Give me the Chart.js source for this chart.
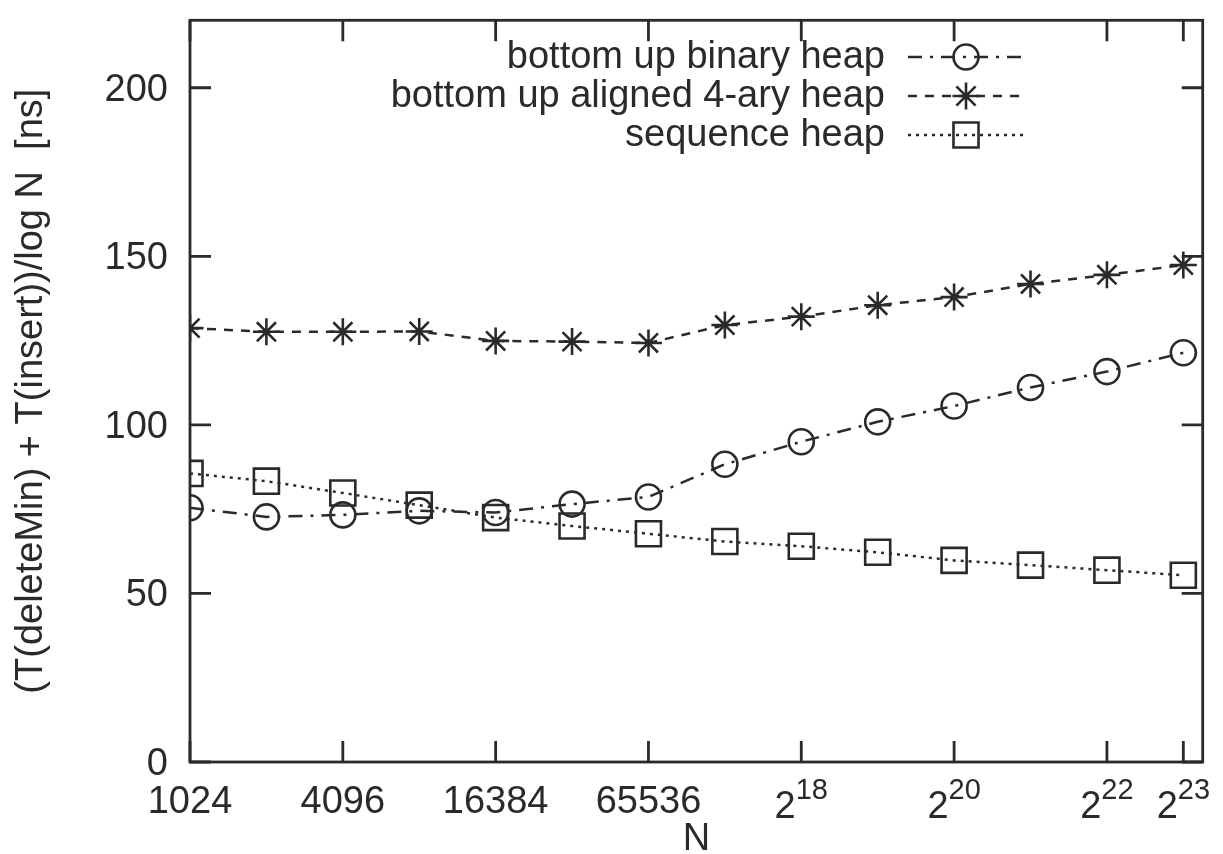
<!DOCTYPE html>
<html>
<head>
<meta charset="utf-8">
<title>Heap benchmark</title>
<script src="https://cdn.jsdelivr.net/npm/chart.js@4/dist/chart.umd.min.js"></script>
<style>
  html, body { margin: 0; padding: 0; background: #ffffff; }
  #wrap { width: 1223px; height: 854px; }
</style>
</head>
<body>
<div id="wrap"><canvas id="c" width="1223" height="854"></canvas></div>
<script>
// Heap sizes N (powers of two, 2^10 .. 2^23)
const heapSizes = [1024, 2048, 4096, 8192, 16384, 32768, 65536, 131072,
                   262144, 524288, 1048576, 2097152, 4194304, 8388608];

// (T(deleteMin) + T(insert)) / log N in nanoseconds
const binaryHeap   = [75.4, 72.7, 73.3, 74.5, 74.0, 76.5, 78.6, 88.3, 95.0, 100.9, 105.6, 111.1, 115.8, 121.4];
const aligned4ary  = [128.7, 127.6, 127.6, 127.7, 124.9, 124.7, 124.3, 129.6, 132.1, 135.5, 137.9, 141.8, 144.5, 147.4];
const sequenceHeap = [85.6, 83.3, 79.8, 76.2, 72.5, 70.0, 67.7, 65.4, 64.0, 62.2, 59.8, 58.4, 56.9, 55.4];

const seriesNames = ['bottom up binary heap', 'bottom up aligned 4-ary heap', 'sequence heap'];

// Axis ticks
const xTickValues = [1024, 4096, 16384, 65536, 262144, 1048576, 4194304, 8388608];
const xTickLabels = ['1024', '4096', '16384', '65536', '2^18', '2^20', '2^22', '2^23'];
const yTickValues = [0, 50, 100, 150, 200];
const yTickLabels = ['0', '50', '100', '150', '200'];

const xTitle = 'N';
const yTitle = '(T(deleteMin) + T(insert))/log N  [ns]';

const INK = '#2a2a2a';
const FONT = '"Liberation Sans", Arial, Helvetica, sans-serif';

function points(values) {
  return values.map((v, i) => ({ x: heapSizes[i], y: v }));
}

// Plain (non-filled) marker drawing for the key
function drawMarker(ctx, style, r, x, y) {
  ctx.beginPath();
  if (style === 'circle') {
    ctx.arc(x, y, r, 0, Math.PI * 2);
  } else if (style === 'rect') {
    const s = Math.SQRT1_2 * r;
    ctx.rect(x - s, y - s, 2 * s, 2 * s);
  } else if (style === 'star') {
    ctx.moveTo(x - r, y); ctx.lineTo(x + r, y);
    ctx.moveTo(x, y - r); ctx.lineTo(x, y + r);
    const d = Math.SQRT1_2 * r;
    ctx.moveTo(x - d, y - d); ctx.lineTo(x + d, y + d);
    ctx.moveTo(x - d, y + d); ctx.lineTo(x + d, y - d);
  }
  ctx.stroke();
}

// Frame, inward ticks on all four sides, tick labels, axis titles and key
const framePlugin = {
  id: 'gnuFrame',
  afterDatasetsDraw(chart) {
    const ctx = chart.ctx;
    const area = chart.chartArea;
    const xs = chart.scales.x, ys = chart.scales.y;
    const tickLen = 21;
    ctx.save();
    ctx.strokeStyle = INK;
    ctx.lineWidth = 2.8;
    ctx.setLineDash([]);
    ctx.strokeRect(area.left, area.top, area.right - area.left, area.bottom - area.top);

    ctx.beginPath();
    xTickValues.forEach(v => {
      const px = xs.getPixelForValue(v);
      ctx.moveTo(px, area.bottom); ctx.lineTo(px, area.bottom - tickLen);
      ctx.moveTo(px, area.top);    ctx.lineTo(px, area.top + tickLen);
    });
    yTickValues.forEach(v => {
      const py = ys.getPixelForValue(v);
      ctx.moveTo(area.left, py);  ctx.lineTo(area.left + tickLen, py);
      ctx.moveTo(area.right, py); ctx.lineTo(area.right - tickLen, py);
    });
    ctx.stroke();

    ctx.fillStyle = INK;
    // y tick labels
    ctx.font = '38px ' + FONT;
    ctx.textAlign = 'right';
    ctx.textBaseline = 'alphabetic';
    yTickValues.forEach((v, i) => {
      const py = ys.getPixelForValue(v);
      ctx.fillText(yTickLabels[i], area.left - 22, py + 13);
    });

    // x tick labels (a^b written with a raised exponent)
    xTickValues.forEach((v, i) => {
      const px = xs.getPixelForValue(v);
      const lab = xTickLabels[i];
      const parts = lab.split('^');
      if (parts.length === 1) {
        ctx.font = '38px ' + FONT;
        ctx.textAlign = 'center';
        ctx.fillText(lab, px, area.bottom + 51);
      } else {
        ctx.font = '38px ' + FONT;
        const wb = ctx.measureText(parts[0]).width;
        ctx.font = '29px ' + FONT;
        const we = ctx.measureText(parts[1]).width;
        const x0 = px - (wb + we) / 2;
        ctx.textAlign = 'left';
        ctx.font = '38px ' + FONT;
        ctx.fillText(parts[0], x0, area.bottom + 56);
        ctx.font = '29px ' + FONT;
        ctx.fillText(parts[1], x0 + wb, area.bottom + 37);
      }
    });

    // axis titles
    ctx.font = '38px ' + FONT;
    ctx.textAlign = 'center';
    ctx.fillText(xTitle, (area.left + area.right) / 2, area.bottom + 88);
    ctx.save();
    ctx.translate(42, (area.top + area.bottom) / 2);
    ctx.rotate(-Math.PI / 2);
    ctx.fillText(yTitle, 0, 0);
    ctx.restore();

    // key, top right: label then line sample with marker
    const rows = [57, 96, 135];
    chart.data.datasets.forEach((ds, i) => {
      const y = rows[i];
      ctx.font = '38px ' + FONT;
      ctx.textAlign = 'right';
      ctx.textBaseline = 'middle';
      ctx.fillStyle = INK;
      ctx.fillText(ds.label, 885, y + 1);
      ctx.strokeStyle = ds.borderColor;
      ctx.lineWidth = ds.borderWidth;
      ctx.setLineDash(ds.borderDash);
      ctx.beginPath();
      ctx.moveTo(908, y); ctx.lineTo(1026, y);
      ctx.stroke();
      ctx.setLineDash([]);
      ctx.lineWidth = ds.pointBorderWidth;
      drawMarker(ctx, ds.pointStyle, ds.pointRadius, 966, y);
    });
    ctx.restore();
  }
};

const common = {
  borderColor: INK,
  borderWidth: 2.5,
  pointBorderColor: INK,
  pointBackgroundColor: 'rgba(0,0,0,0)',
  pointBorderWidth: 2.6,
  tension: 0,
  fill: false
};

new Chart(document.getElementById('c'), {
  type: 'line',
  data: {
    datasets: [
      Object.assign({}, common, {
        label: seriesNames[0],
        data: points(binaryHeap),
        borderDash: [14, 8, 3, 8],
        pointStyle: 'circle',
        pointRadius: 12.5
      }),
      Object.assign({}, common, {
        label: seriesNames[1],
        data: points(aligned4ary),
        borderDash: [9, 8],
        pointStyle: 'star',
        pointRadius: 13.5
      }),
      Object.assign({}, common, {
        label: seriesNames[2],
        data: points(sequenceHeap),
        borderDash: [3, 5],
        pointStyle: 'rect',
        pointRadius: 17.7
      })
    ]
  },
  options: {
    responsive: false,
    animation: false,
    events: [],
    layout: { padding: { left: 190, right: 18, top: 12, bottom: 92 } },
    scales: {
      x: { type: 'logarithmic', min: 1024, max: 1e7, display: false },
      y: { type: 'linear', min: 0, max: 220, display: false }
    },
    plugins: {
      legend: { display: false },
      tooltip: { enabled: false }
    }
  },
  plugins: [framePlugin]
});
</script>
</body>
</html>
